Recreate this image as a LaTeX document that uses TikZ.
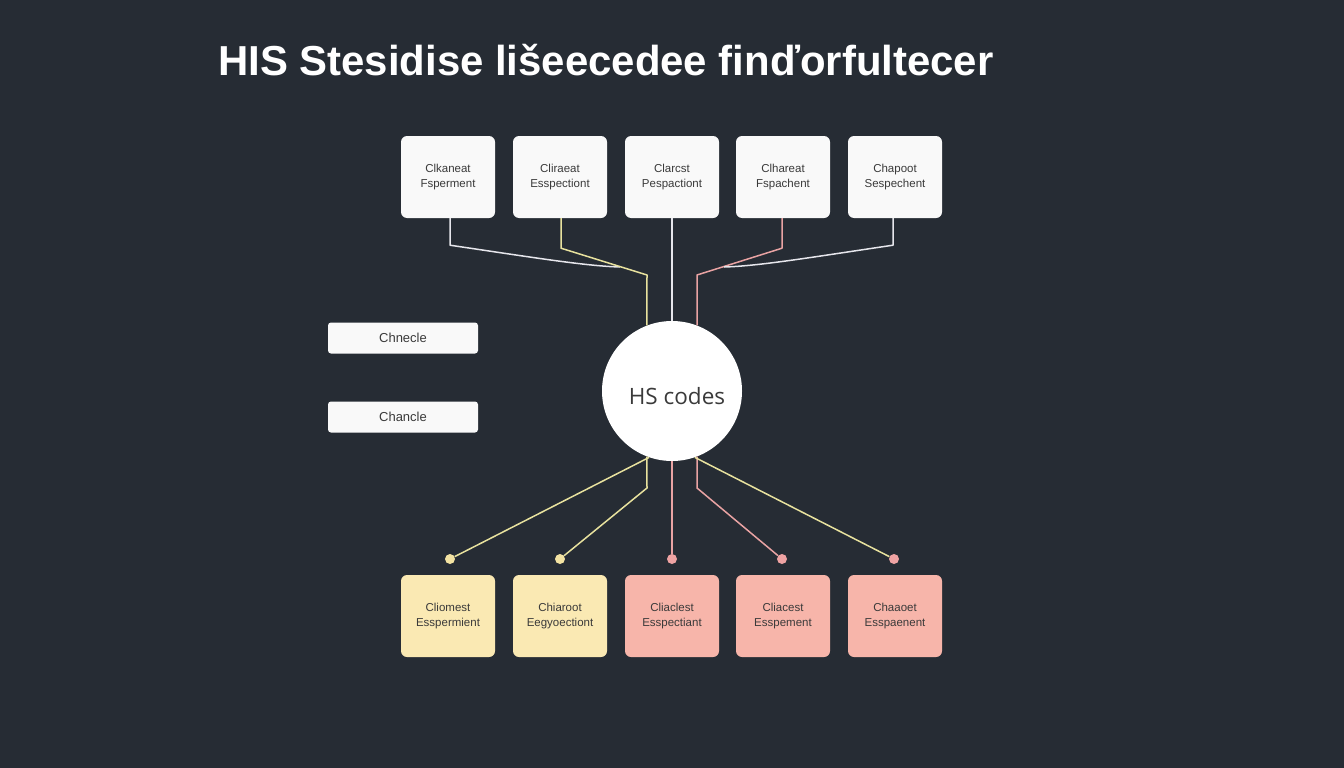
\documentclass[tikz,border=0pt]{standalone}
\usepackage{fontspec}
\setmainfont{Liberation Sans}
\newfontfamily\circfont{Open Sans}
\definecolor{bg}{HTML}{262C34}
\definecolor{boxw}{HTML}{F9F9F9}
\definecolor{txt}{HTML}{3A3A3A}
\definecolor{yfill}{HTML}{FAE9B3}
\definecolor{pfill}{HTML}{F7B5AA}
\definecolor{yline}{HTML}{E8E29E}
\definecolor{pline}{HTML}{E9A3A3}
\definecolor{wline}{HTML}{E6E6EC}
\definecolor{ydot}{HTML}{F3E3A2}
\definecolor{pdot}{HTML}{EFA3A3}
\begin{document}
\begin{tikzpicture}[x=1pt,y=-1pt,
  cardbox/.style={rounded corners=6pt,minimum width=94pt,minimum height=82pt,inner sep=0pt,
    font=\fontsize{11.5}{15}\selectfont,text=txt,align=center},
  wcard/.style={cardbox,fill=boxw},
  ycard/.style={cardbox,fill=yfill},
  pcard/.style={cardbox,fill=pfill},
  sidebox/.style={fill=boxw,rounded corners=3pt,minimum width=150pt,minimum height=31pt,inner sep=0pt,
    font=\fontsize{13}{15}\selectfont,text=txt},
  conn/.style={line width=1.5pt,line join=round},
  wl/.style={conn,draw=wline},
  yl/.style={conn,draw=yline},
  pl/.style={conn,draw=pline},
  ydotst/.style={circle,fill=ydot,minimum size=10pt,inner sep=0pt},
  pdotst/.style={circle,fill=pdot,minimum size=10pt,inner sep=0pt}]
\fill[bg] (0,0) rectangle (1344,768);
\useasboundingbox (0,0) rectangle (1344,768);

\node[anchor=base west,text=white,font=\fontsize{41.9}{44}\selectfont\bfseries,inner sep=0pt] (title) at (218,76)
  {HIS Stesidise lišeecedee finďorfultecer};

% top cards
\node[wcard] (t1) at (448,177) {Clkaneat\\Fsperment};
\node[wcard] (t2) at (560,177) {Cliraeat\\Esspectiont};
\node[wcard] (t3) at (672,177) {Clarcst\\Pespactiont};
\node[wcard] (t4) at (783,177) {Clhareat\\Fspachent};
\node[wcard] (t5) at (895,177) {Chapoot\\Sespechent};

% bottom cards
\node[ycard] (b1) at (448,616) {Cliomest\\Esspermient};
\node[ycard] (b2) at (560,616) {Chiaroot\\Eegyoectiont};
\node[pcard] (b3) at (672,616) {Cliaclest\\Esspectiant};
\node[pcard] (b4) at (783,616) {Cliacest\\Esspement};
\node[pcard] (b5) at (895,616) {Chaaoet\\Esspaenent};

% side boxes
\node[sidebox] (l1) at (403,338) {Chnecle};
\node[sidebox] (l2) at (403,417) {Chancle};

% circle
\node[circle,fill=white,minimum size=140pt,inner sep=0pt] (c) at (672,391) {};
\node[font=\circfont\fontsize{22.5}{24}\selectfont,text=txt] (ct) at (677,396) {HS codes};

% dots
\node[ydotst] (d1) at (450,559) {};
\node[ydotst] (d2) at (560,559) {};
\node[pdotst] (d3) at (672,559) {};
\node[pdotst] (d4) at (782,559) {};
\node[pdotst] (d5) at (894,559) {};

% top connectors
\coordinate (m1) at (620,267);
\coordinate (m5) at (724,267);
\draw[wl] ([xshift=2pt]t1.south) -- ++(0,27) .. controls (530,257) and (585,266) .. (m1);
\draw[yl] ([xshift=1pt]t2.south) -- ++(0,30) -- (647,275) -- (c.111);
\draw[wl] (t3.south) -- (c.north);
\draw[pl] ([xshift=-1pt]t4.south) -- ++(0,30) -- (697,275) -- (c.69);
\draw[wl] ([xshift=-2pt]t5.south) -- ++(0,27) .. controls (813,257) and (760,266) .. (m5);

% bottom connectors
\draw[yl] (c.251) -- (d1);
\draw[yl] (c.249) -- (647,488) -- (d2);
\draw[pl] (c.south) -- (d3);
\draw[pl] (c.291) -- (697,488) -- (d4);
\draw[yl] (c.289) -- (d5);
\end{tikzpicture}
\end{document}
